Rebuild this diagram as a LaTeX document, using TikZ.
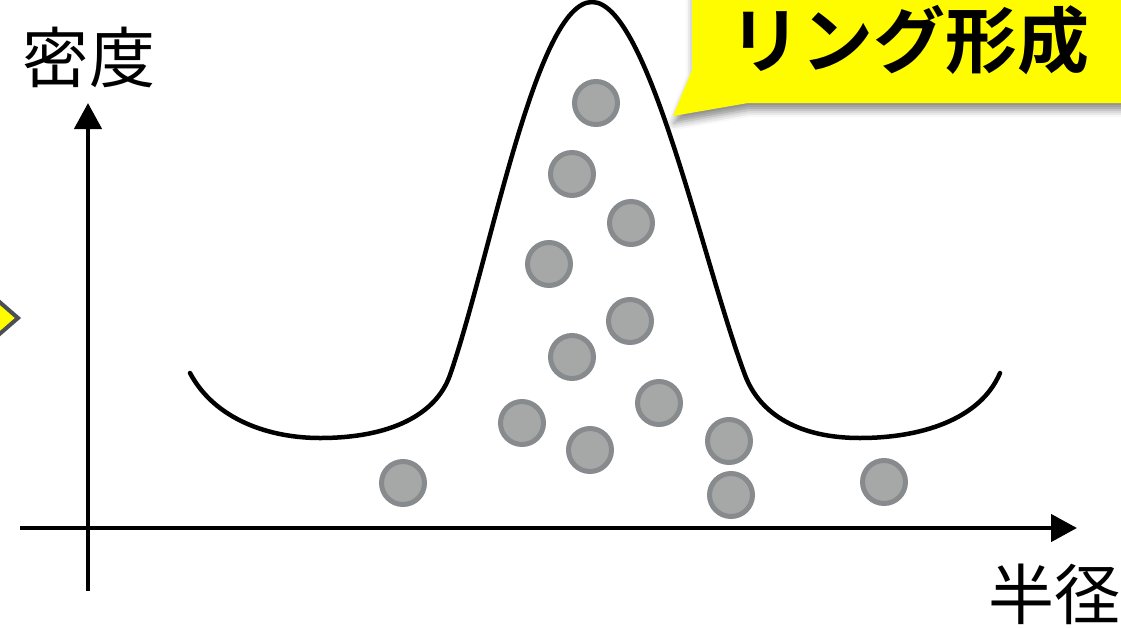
\documentclass[tikz,border=0pt]{standalone}
\usepackage{fontspec}
\newfontfamily\cjk{Noto Sans CJK JP}
\newfontfamily\cjkbold{Noto Sans CJK JP Bold}
\usetikzlibrary{arrows.meta,shadows.blur}
\definecolor{ballfill}{HTML}{A5A8A6}
\definecolor{balledge}{HTML}{888B8E}
\definecolor{callyellow}{HTML}{FFFC00}
\definecolor{chevedge}{HTML}{4A4F55}
\tikzset{
  ball/.style={circle, draw=balledge, fill=ballfill, line width=5pt, minimum size=43pt, inner sep=0pt},
  axisline/.style={line width=4.5pt, black, -{Triangle[length=26pt 0,width=27pt 0]}},
  axislabel/.style={font=\cjk\fontsize{66}{70}\selectfont, inner sep=0pt},
  curveline/.style={line width=4.5pt, line cap=round},
}
\begin{document}
\begin{tikzpicture}[x=1pt,y=-1pt]
\useasboundingbox (0,0) rectangle (1121,627);
% partial chevron at left edge
\filldraw[fill=callyellow, draw=chevedge, line width=4pt, line join=miter] (-12,292) -- (18,318) -- (-12,344) -- cycle;
% callout
\fill[callyellow, blur shadow={shadow xshift=1pt, shadow yshift=-7pt, shadow blur radius=7pt, shadow opacity=45}]
  (692,-20) -- (692,70) -- (673,116) -- (748,103) -- (1140,103) -- (1140,-20) -- cycle;
\node[inner sep=0pt, font=\cjkbold\fontsize{72}{76}\selectfont] (callout) at (909,40) {リング形成};
% axes
\coordinate (xstart) at (20,528);
\coordinate (xend) at (1077,528);
\coordinate (ystart) at (88,591);
\coordinate (yend) at (88,103);
\draw[axisline] (xstart) -- (xend);
\draw[axisline] (ystart) -- (yend);
\node[axislabel] (ylab) at (89,57) {密度};
\node[axislabel] (xlab) at (1054,594) {半径};
% density curve
\draw[curveline] (190,373) .. controls (215,420) and (270,438) .. (320,438)
  .. controls (390,438) and (436,415) .. (450,375)
  .. controls (490,260) and (536,2) .. (592,2)
  .. controls (648,2) and (702,260) .. (745,375)
  .. controls (760,415) and (800,438) .. (860,438)
  .. controls (920,438) and (980,420) .. (1000,373);
% particles
\node[ball] (b1) at (596,103) {};
\node[ball] (b2) at (572,174) {};
\node[ball] (b3) at (631,223) {};
\node[ball] (b4) at (549,264) {};
\node[ball] (b5) at (630,321) {};
\node[ball] (b6) at (572,357) {};
\node[ball] (b7) at (522,423) {};
\node[ball] (b8) at (590,450) {};
\node[ball] (b9) at (659,403) {};
\node[ball] (b10) at (729,441) {};
\node[ball] (b11) at (731,495) {};
\node[ball] (b12) at (403,483) {};
\node[ball] (b13) at (884,482) {};
\end{tikzpicture}
\end{document}
